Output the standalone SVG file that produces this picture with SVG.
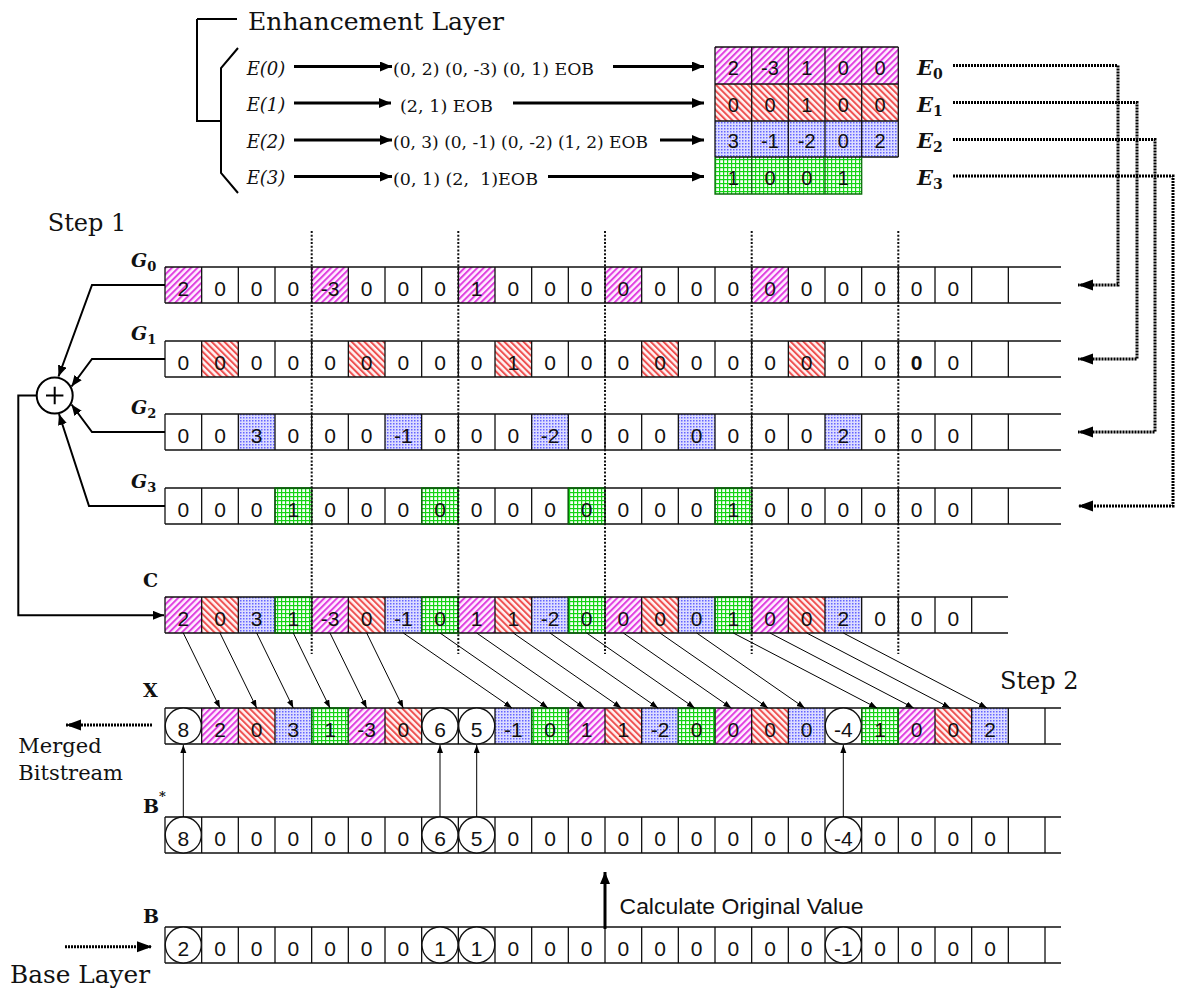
<svg xmlns="http://www.w3.org/2000/svg" xmlns:xlink="http://www.w3.org/1999/xlink" width="1178" height="988" viewBox="0 0 1178 988">
  <style>
    .n { font-family: "Liberation Sans", Arial, sans-serif; font-size: 21px; text-anchor: middle; fill: #111; }
    .ne { font-family: "Liberation Sans", Arial, sans-serif; font-size: 20px; text-anchor: middle; fill: #111; }
    .serif { font-family: "DejaVu Serif", "Liberation Serif", serif; fill: #111; }
    .lbl { font-family: "DejaVu Serif", "Liberation Serif", serif; font-weight: bold; font-size: 19px; fill: #111; }
    .gl { font-family: "DejaVu Serif", "Liberation Serif", serif; font-weight: bold; font-style: italic; fill: #111; }
    .sub { font-style: normal; font-weight: bold; }
    .grid { fill: none; stroke: #111; stroke-width: 1.3; }
    .ggrid { fill: none; stroke: #0a6e0a; stroke-width: 1.3; }
    .cm { fill: url(#pm); }
    .cr { fill: url(#pr); }
    .cb { fill: url(#pb); }
    .cg { fill: url(#pg); }
    .circ { fill: #fff; stroke: #111; stroke-width: 1.3; }
    .thick { fill: none; stroke: #000; stroke-width: 3; }
    .mid { fill: none; stroke: #000; stroke-width: 2; }
    .thin { fill: none; stroke: #000; stroke-width: 1; }
    .dots { fill: none; stroke: #000; stroke-width: 3; stroke-dasharray: 2 1; }
    .sep { fill: none; stroke: #111; stroke-width: 2; stroke-dasharray: 2 1.7; }
  </style>
  <defs>
    <!-- hatch / texture fills for the four coefficient groups -->
    <pattern id="pm" width="4.5" height="4.5" patternUnits="userSpaceOnUse" patternTransform="rotate(45)">
      <rect width="4.5" height="4.5" fill="#fff0ff"/>
      <rect width="2" height="4.5" fill="#e040e0"/>
    </pattern>
    <pattern id="pr" width="4.5" height="4.5" patternUnits="userSpaceOnUse" patternTransform="rotate(-45)">
      <rect width="4.5" height="4.5" fill="#fff4f4"/>
      <rect width="2" height="4.5" fill="#ee5050"/>
    </pattern>
    <pattern id="pb" width="3" height="3" patternUnits="userSpaceOnUse">
      <rect width="3" height="3" fill="#dcdcff"/>
      <rect width="1.5" height="1.5" fill="#6464ff"/>
    </pattern>
    <pattern id="pg" width="4" height="4" patternUnits="userSpaceOnUse">
      <rect width="4" height="4" fill="#f8fff8"/>
      <rect width="4" height="1.2" fill="#14d414"/>
      <rect width="1.2" height="4" fill="#14d414"/>
    </pattern>

    <!-- cell grids: 24, 23 and 25 cell borders -->
    <path id="gridG" d="M0 0H896M0 36H896M0 0v36m36.667-36v36m36.667-36v36m36.667-36v36m36.667-36v36m36.667-36v36m36.667-36v36m36.667-36v36m36.667-36v36m36.667-36v36m36.667-36v36m36.667-36v36m36.667-36v36m36.667-36v36m36.667-36v36m36.667-36v36m36.667-36v36m36.667-36v36m36.667-36v36m36.667-36v36m36.667-36v36m36.667-36v36m36.667-36v36m36.667-36v36"/>
    <path id="gridC" d="M0 0H843M0 36H843M0 0v36m36.667-36v36m36.667-36v36m36.667-36v36m36.667-36v36m36.667-36v36m36.667-36v36m36.667-36v36m36.667-36v36m36.667-36v36m36.667-36v36m36.667-36v36m36.667-36v36m36.667-36v36m36.667-36v36m36.667-36v36m36.667-36v36m36.667-36v36m36.667-36v36m36.667-36v36m36.667-36v36m36.667-36v36m36.667-36v36"/>
    <path id="gridX" d="M0 0H896M0 36H896M0 0v36m36.667-36v36m36.667-36v36m36.667-36v36m36.667-36v36m36.667-36v36m36.667-36v36m36.667-36v36m36.667-36v36m36.667-36v36m36.667-36v36m36.667-36v36m36.667-36v36m36.667-36v36m36.667-36v36m36.667-36v36m36.667-36v36m36.667-36v36m36.667-36v36m36.667-36v36m36.667-36v36m36.667-36v36m36.667-36v36m36.667-36v36m36.667-36v36"/>

    <marker id="ahThick" markerUnits="userSpaceOnUse" markerWidth="13" markerHeight="11" refX="12" refY="5" orient="auto">
      <path d="M0 0L12 5L0 10z" fill="#000"/>
    </marker>
    <marker id="ahMid" markerUnits="userSpaceOnUse" markerWidth="12" markerHeight="10" refX="11" refY="4.5" orient="auto">
      <path d="M0 0L11 4.5L0 9z" fill="#000"/>
    </marker>
    <marker id="ahThin" markerUnits="userSpaceOnUse" markerWidth="9" markerHeight="7" refX="8" refY="3" orient="auto">
      <path d="M0 0L8 3L0 6z" fill="#000"/>
    </marker>
    <marker id="ahDot" markerUnits="userSpaceOnUse" markerWidth="16" markerHeight="12" refX="15" refY="5.5" orient="auto">
      <path d="M0 0L15 5.5L0 11z" fill="#000"/>
    </marker>
  </defs>

  <rect width="1178" height="988" fill="#fff"/>

  <!-- enhancement layer header and bracket -->
  <g id="enhancement-layer">
    <path d="M197 19H237M197 19V121H221M238 48L221 68V173L238 193" fill="none" stroke="#000" stroke-width="2"/>
    <text class="serif" x="248" y="29.5" font-size="24" textLength="256" lengthAdjust="spacingAndGlyphs">Enhancement Layer</text>
    <text class="serif" x="246.7" y="74.5" font-size="18" font-style="italic">E(0)</text>
    <text class="serif" x="246.7" y="111" font-size="18" font-style="italic">E(1)</text>
    <text class="serif" x="246.7" y="147.5" font-size="18" font-style="italic">E(2)</text>
    <text class="serif" x="246.7" y="184" font-size="18" font-style="italic">E(3)</text>
    <text class="serif" x="393" y="75" font-size="16" textLength="201" lengthAdjust="spacingAndGlyphs">(0, 2) (0, -3) (0, 1) EOB</text>
    <text class="serif" x="400" y="111.5" font-size="16" textLength="93" lengthAdjust="spacingAndGlyphs">(2, 1) EOB</text>
    <text class="serif" x="393" y="148" font-size="16" textLength="255" lengthAdjust="spacingAndGlyphs">(0, 3) (0, -1) (0, -2) (1, 2) EOB</text>
    <text class="serif" x="393" y="184.5" font-size="16" textLength="145" lengthAdjust="spacingAndGlyphs">(0, 1) (2,&#160; 1)EOB</text>
  </g>

  <!-- packed enhancement coefficients E0..E3 -->
  <g id="block-E" transform="translate(715,47)">
    <rect width="183.3" height="37" class="cm"/>
    <rect y="37" width="183.3" height="37" class="cr"/>
    <rect y="74" width="183.3" height="36" class="cb"/>
    <rect y="110" width="146.7" height="37" class="cg"/>
    <path class="grid" d="M0 0H183.3M0 37H183.3M0 74H183.3M0 110H183.3M0 0V110M36.7 0V110M73.3 0V110M110 0V110M146.7 0V110M183.3 0V110"/>
    <path class="ggrid" d="M0 110V147H146.7V110M36.7 110V147M73.3 110V147M110 110V147"/>
    <text class="ne" y="28"><tspan x="18.3">2</tspan><tspan x="55">-3</tspan><tspan x="91.7">1</tspan><tspan x="128.3">0</tspan><tspan x="165">0</tspan></text>
    <text class="ne" y="64.7"><tspan x="18.3">0</tspan><tspan x="55">0</tspan><tspan x="91.7">1</tspan><tspan x="128.3">0</tspan><tspan x="165">0</tspan></text>
    <text class="ne" y="101.3"><tspan x="18.3">3</tspan><tspan x="55">-1</tspan><tspan x="91.7">-2</tspan><tspan x="128.3">0</tspan><tspan x="165">2</tspan></text>
    <text class="ne" y="138"><tspan x="18.3">1</tspan><tspan x="55">0</tspan><tspan x="91.7">0</tspan><tspan x="128.3">1</tspan></text>
  </g>
  <g id="labels-E">
    <text class="gl" x="917" y="75" font-size="21">E<tspan class="sub" font-size="14" dy="4">0</tspan></text>
    <text class="gl" x="917" y="111.7" font-size="21">E<tspan class="sub" font-size="14" dy="4">1</tspan></text>
    <text class="gl" x="917" y="148.3" font-size="21">E<tspan class="sub" font-size="14" dy="4">2</tspan></text>
    <text class="gl" x="917" y="185" font-size="21">E<tspan class="sub" font-size="14" dy="4">3</tspan></text>
  </g>

  <text id="step1" class="serif" x="47.7" y="230.5" font-size="24">Step 1</text>
  <text id="step2" class="serif" x="1000" y="689" font-size="24">Step 2</text>

  <!-- G0 -->
  <g id="row-G0" transform="translate(165,267)">
    <rect x="0" width="36.667" height="36" class="cm"/>
    <rect x="146.67" width="36.667" height="36" class="cm"/>
    <rect x="293.33" width="36.667" height="36" class="cm"/>
    <rect x="440" width="36.667" height="36" class="cm"/>
    <rect x="586.67" width="36.667" height="36" class="cm"/>
    <use href="#gridG" class="grid"/>
    <text class="n" y="28.5"><tspan x="18.3 55 91.7 128.3">2000</tspan><tspan x="165">-3</tspan><tspan x="201.7 238.3 275 311.7 348.3 385 421.7 458.3 495 531.7 568.3 605 641.7 678.3 715 751.7 788.3">00010000000000000</tspan></text>
    <text class="gl" x="-34" y="-0.5" font-size="19">G<tspan class="sub" font-size="13" dy="4">0</tspan></text>
  </g>

  <!-- G1 -->
  <g id="row-G1" transform="translate(165,341)">
    <rect x="36.667" width="36.667" height="36" class="cr"/>
    <rect x="183.33" width="36.667" height="36" class="cr"/>
    <rect x="330" width="36.667" height="36" class="cr"/>
    <rect x="476.67" width="36.667" height="36" class="cr"/>
    <rect x="623.33" width="36.667" height="36" class="cr"/>
    <use href="#gridG" class="grid"/>
    <text class="n" y="28.5"><tspan x="18.3 55 91.7 128.3 165 201.7 238.3 275 311.7 348.3 385 421.7 458.3 495 531.7 568.3 605 641.7 678.3 715">00000000010000000000</tspan><tspan x="751.7" font-weight="bold">0</tspan><tspan x="788.3">0</tspan></text>
    <text class="gl" x="-34" y="-1" font-size="19">G<tspan class="sub" font-size="13" dy="4">1</tspan></text>
  </g>

  <!-- G2 -->
  <g id="row-G2" transform="translate(165,414)">
    <rect x="73.333" width="36.667" height="36" class="cb"/>
    <rect x="220" width="36.667" height="36" class="cb"/>
    <rect x="366.67" width="36.667" height="36" class="cb"/>
    <rect x="513.33" width="36.667" height="36" class="cb"/>
    <rect x="660" width="36.667" height="36" class="cb"/>
    <use href="#gridG" class="grid"/>
    <text class="n" y="28.5"><tspan x="18.3 55 91.7 128.3 165 201.7">003000</tspan><tspan x="238.3">-1</tspan><tspan x="275 311.7 348.3">000</tspan><tspan x="385">-2</tspan><tspan x="421.7 458.3 495 531.7 568.3 605 641.7 678.3 715 751.7 788.3">00000002000</tspan></text>
    <text class="gl" x="-34" y="-0.5" font-size="19">G<tspan class="sub" font-size="13" dy="4">2</tspan></text>
  </g>

  <!-- G3 -->
  <g id="row-G3" transform="translate(165,488)">
    <rect x="110" width="36.667" height="36" class="cg"/>
    <rect x="256.67" width="36.667" height="36" class="cg"/>
    <rect x="403.33" width="36.667" height="36" class="cg"/>
    <rect x="550" width="36.667" height="36" class="cg"/>
    <use href="#gridG" class="grid"/>
    <path class="ggrid" d="M110 0h36.667v36h-36.667zM256.67 0h36.667v36h-36.667zM403.33 0h36.667v36h-36.667zM550 0h36.667v36h-36.667z"/>
    <text class="n" y="28.5" x="18.3 55 91.7 128.3 165 201.7 238.3 275 311.7 348.3 385 421.7 458.3 495 531.7 568.3 605 641.7 678.3 715 751.7 788.3">0001000000000001000000</text>
    <text class="gl" x="-34" y="-0.5" font-size="19">G<tspan class="sub" font-size="13" dy="4">3</tspan></text>
  </g>

  <!-- summing node -->
  <g id="sum">
    <circle cx="54.7" cy="395.5" r="18" fill="#fff" stroke="#000" stroke-width="2"/>
    <path d="M46 395.5H63.4M54.7 386.8V404.2" stroke="#000" stroke-width="2"/>
  </g>

  <!-- C: combined coefficients -->
  <g id="row-C" transform="translate(165,597)">
    <rect x="0" width="36.667" height="36" class="cm"/>
    <rect x="36.667" width="36.667" height="36" class="cr"/>
    <rect x="73.333" width="36.667" height="36" class="cb"/>
    <rect x="110" width="36.667" height="36" class="cg"/>
    <rect x="146.67" width="36.667" height="36" class="cm"/>
    <rect x="183.33" width="36.667" height="36" class="cr"/>
    <rect x="220" width="36.667" height="36" class="cb"/>
    <rect x="256.67" width="36.667" height="36" class="cg"/>
    <rect x="293.33" width="36.667" height="36" class="cm"/>
    <rect x="330" width="36.667" height="36" class="cr"/>
    <rect x="366.67" width="36.667" height="36" class="cb"/>
    <rect x="403.33" width="36.667" height="36" class="cg"/>
    <rect x="440" width="36.667" height="36" class="cm"/>
    <rect x="476.67" width="36.667" height="36" class="cr"/>
    <rect x="513.33" width="36.667" height="36" class="cb"/>
    <rect x="550" width="36.667" height="36" class="cg"/>
    <rect x="586.67" width="36.667" height="36" class="cm"/>
    <rect x="623.33" width="36.667" height="36" class="cr"/>
    <rect x="660" width="36.667" height="36" class="cb"/>
    <use href="#gridC" class="grid"/>
    <path class="ggrid" d="M110 0h36.667v36h-36.667zM256.67 0h36.667v36h-36.667zM403.33 0h36.667v36h-36.667zM550 0h36.667v36h-36.667z"/>
    <text class="n" y="28.5"><tspan x="18.3 55 91.7 128.3">2031</tspan><tspan x="165">-3</tspan><tspan x="201.7">0</tspan><tspan x="238.3">-1</tspan><tspan x="275 311.7 348.3">011</tspan><tspan x="385">-2</tspan><tspan x="421.7 458.3 495 531.7 568.3 605 641.7 678.3 715 751.7 788.3">00001002000</tspan></text>
    <text class="lbl" x="-22" y="-9.7">C</text>
  </g>

  <!-- X: merged stream -->
  <g id="row-X" transform="translate(165,708)">
    <rect x="36.667" width="36.667" height="36" class="cm"/>
    <rect x="73.333" width="36.667" height="36" class="cr"/>
    <rect x="110" width="36.667" height="36" class="cb"/>
    <rect x="146.67" width="36.667" height="36" class="cg"/>
    <rect x="183.33" width="36.667" height="36" class="cm"/>
    <rect x="220" width="36.667" height="36" class="cr"/>
    <rect x="330" width="36.667" height="36" class="cb"/>
    <rect x="366.67" width="36.667" height="36" class="cg"/>
    <rect x="403.33" width="36.667" height="36" class="cm"/>
    <rect x="440" width="36.667" height="36" class="cr"/>
    <rect x="476.67" width="36.667" height="36" class="cb"/>
    <rect x="513.33" width="36.667" height="36" class="cg"/>
    <rect x="550" width="36.667" height="36" class="cm"/>
    <rect x="586.67" width="36.667" height="36" class="cr"/>
    <rect x="623.33" width="36.667" height="36" class="cb"/>
    <rect x="696.67" width="36.667" height="36" class="cg"/>
    <rect x="733.33" width="36.667" height="36" class="cm"/>
    <rect x="770" width="36.667" height="36" class="cr"/>
    <rect x="806.67" width="36.667" height="36" class="cb"/>
    <use href="#gridX" class="grid"/>
    <path class="ggrid" d="M146.67 0h36.667v36h-36.667zM366.67 0h36.667v36h-36.667zM513.33 0h36.667v36h-36.667zM696.67 0h36.667v36h-36.667z"/>
    <circle class="circ" cx="18.3" cy="18" r="18"/>
    <circle class="circ" cx="275" cy="18" r="18"/>
    <circle class="circ" cx="311.7" cy="18" r="18"/>
    <circle class="circ" cx="678.3" cy="18" r="18"/>
    <text class="n" y="28.5"><tspan x="18.3 55 91.7 128.3 165">82031</tspan><tspan x="201.7">-3</tspan><tspan x="238.3 275 311.7">065</tspan><tspan x="348.3">-1</tspan><tspan x="385 421.7 458.3">011</tspan><tspan x="495">-2</tspan><tspan x="531.7 568.3 605 641.7">0000</tspan><tspan x="678.3">-4</tspan><tspan x="715 751.7 788.3 825">1002</tspan></text>
    <text class="lbl" x="-22" y="-10.7">X</text>
  </g>

  <!-- B*: reconstructed base values -->
  <g id="row-Bstar" transform="translate(165,817)">
    <use href="#gridX" class="grid"/>
    <circle class="circ" cx="18.3" cy="18" r="18"/>
    <circle class="circ" cx="275" cy="18" r="18"/>
    <circle class="circ" cx="311.7" cy="18" r="18"/>
    <circle class="circ" cx="678.3" cy="18" r="18"/>
    <text class="n" y="28.5"><tspan x="18.3 55 91.7 128.3 165 201.7 238.3 275 311.7 348.3 385 421.7 458.3 495 531.7 568.3 605 641.7">800000065000000000</tspan><tspan x="678.3">-4</tspan><tspan x="715 751.7 788.3 825">0000</tspan></text>
    <text class="lbl" x="-22" y="-4.3">B<tspan font-size="13" dy="-12">*</tspan></text>
  </g>

  <!-- B: base layer -->
  <g id="row-B" transform="translate(165,927)">
    <use href="#gridX" class="grid"/>
    <circle class="circ" cx="18.3" cy="18" r="18"/>
    <circle class="circ" cx="275" cy="18" r="18"/>
    <circle class="circ" cx="311.7" cy="18" r="18"/>
    <circle class="circ" cx="678.3" cy="18" r="18"/>
    <text class="n" y="28.5"><tspan x="18.3 55 91.7 128.3 165 201.7 238.3 275 311.7 348.3 385 421.7 458.3 495 531.7 568.3 605 641.7">200000011000000000</tspan><tspan x="678.3">-1</tspan><tspan x="715 751.7 788.3 825">0000</tspan></text>
    <text class="lbl" x="-22" y="-4.3">B</text>
  </g>

  <g id="side-labels">
    <text class="serif" x="18.3" y="752.7" font-size="21">Merged</text>
    <text class="serif" x="18.3" y="780" font-size="21">Bitstream</text>
    <text class="serif" x="10" y="982.5" font-size="25" textLength="140" lengthAdjust="spacingAndGlyphs">Base Layer</text>
    <text x="619.6" y="914.3" font-family="Liberation Sans, Arial, sans-serif" font-size="22" fill="#111" textLength="244" lengthAdjust="spacingAndGlyphs">Calculate Original Value</text>
  </g>

  <!-- 4-coefficient group boundaries -->
  <g id="group-boundaries" class="sep">
    <path d="M311.7 231V654M458.3 231V654M605 231V654M751.7 231V654M898.3 231V654"/>
  </g>

  <g id="connectors">
    <!-- run-length streams to packed coefficients -->
    <g class="thick" marker-end="url(#ahThick)">
      <path d="M294 66.5H392"/>
      <path d="M613 66.5H704"/>
      <path d="M294 103H391"/>
      <path d="M513 103H704"/>
      <path d="M294 140H392"/>
      <path d="M660 140H704"/>
      <path d="M294 176.5H392"/>
      <path d="M548 176.5H704"/>
    </g>
    <!-- Ek distributed to Gk -->
    <g class="dots" marker-end="url(#ahDot)">
      <path d="M953 65.5H1118V285H1078"/>
      <path d="M953 102.5H1137V359H1078"/>
      <path d="M953 139.5H1155V432H1078"/>
      <path d="M953 176H1173V506H1078"/>
    </g>
    <!-- Gk into the summing node, sum into C -->
    <g class="mid" marker-end="url(#ahMid)">
      <path d="M165 285H92L58.5 376.5"/>
      <path d="M165 359H92L71.5 386.5"/>
      <path d="M165 432H92L71.5 404.5"/>
      <path d="M165 506H89L59 414"/>
      <path d="M36.7 395.5H18.3V615.3H164"/>
    </g>
    <!-- C to X placement -->
    <g class="thin" marker-end="url(#ahThin)">
      <path d="M183.3 633L220 708"/>
      <path d="M220 633L256.7 708"/>
      <path d="M256.7 633L293.3 708"/>
      <path d="M293.3 633L330 708"/>
      <path d="M330 633L366.7 708"/>
      <path d="M366.7 633L403.3 708"/>
      <path d="M403.3 633L512 708"/>
      <path d="M440 633L548 708"/>
      <path d="M476.7 633L584.7 708"/>
      <path d="M513.3 633L621.3 708"/>
      <path d="M550 633L658 708"/>
      <path d="M586.7 633L694.7 708"/>
      <path d="M623.3 633L731.3 708"/>
      <path d="M660 633L768 708"/>
      <path d="M696.7 633L804.7 708"/>
      <path d="M733.3 633L877 708"/>
      <path d="M770 633L913.7 708"/>
      <path d="M806.7 633L950.3 708"/>
      <path d="M843.3 633L987 708"/>
      <!-- B* values lifted into X -->
      <path d="M183.3 817V745"/>
      <path d="M440 817V745"/>
      <path d="M476.7 817V745"/>
      <path d="M843.3 817V745"/>
    </g>
    <path class="dots" d="M152 725H66" marker-end="url(#ahDot)"/>
    <path class="dots" d="M65 946.7H152" marker-end="url(#ahDot)"/>
    <path class="thick" d="M605 929V872" marker-end="url(#ahThick)"/>
  </g>
</svg>
